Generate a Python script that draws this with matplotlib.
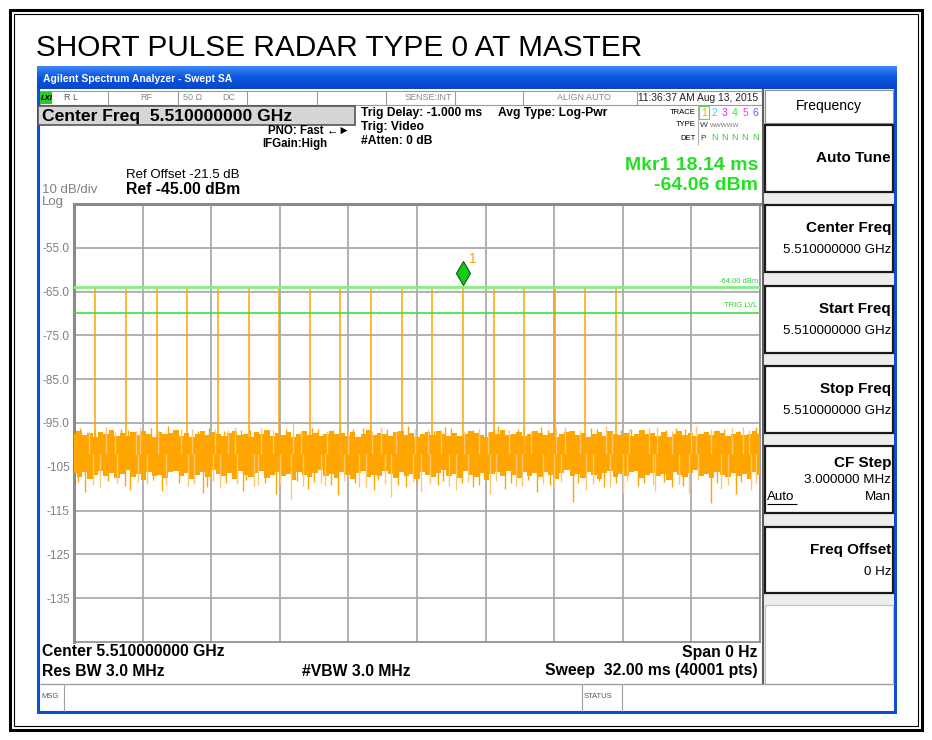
import matplotlib
matplotlib.use("Agg")
import matplotlib.pyplot as plt
import numpy as np
from matplotlib.patches import Rectangle

# --- data ---
sweep_ms = 32.0
ref_level = -45.0
bottom_level = -145.0
ytick_vals = [-55, -65, -75, -85, -95, -105, -115, -125, -135]
ytick_labels = ["-55.0", "-65.0", "-75.0", "-85.0", "-95.0", "-105", "-115", "-125", "-135"]

pulse_t = [1.00, 2.43, 3.86, 5.29, 6.72, 8.14, 9.57, 11.00, 12.43, 13.86,
           15.28, 16.71, 18.14, 19.57, 21.00, 22.43, 23.85, 25.28]
pulse_db = [-64.1, -64.0, -64.2, -64.1, -64.0, -64.3, -64.1, -64.0, -64.4, -64.2,
            -64.1, -64.3, -64.06, -64.2, -64.1, -64.3, -64.2, -64.1]

display_line = -64.0
trig_level = -70.0
marker_t = 18.14
marker_db = -64.06

# noise floor envelope, sampled every 0.25 ms
noise_top = [
    -97.6, -96.9, -97.8, -97.2, -98.1, -97.0, -97.5, -96.6, -97.9, -97.3,
    -98.0, -97.1, -97.7, -96.8, -97.4, -98.2, -97.0, -97.6, -97.2, -96.7,
    -97.9, -97.3, -98.3, -97.5, -96.9, -97.8, -97.1, -97.6, -98.0, -97.2,
    -96.8, -97.7, -97.4, -98.1, -97.0, -97.5, -96.7, -97.9, -97.3, -97.8,
    -97.1, -98.2, -97.4, -96.9, -97.7, -97.2, -98.0, -97.5, -96.8, -97.6,
    -97.3, -97.9, -97.0, -98.1, -97.4, -96.7, -97.8, -97.2, -97.6, -98.0,
    -97.1, -96.9, -97.7, -97.3, -98.2, -97.5, -97.0, -97.8, -96.8, -97.4,
    -97.9, -97.2, -98.0, -97.6, -96.9, -97.3, -97.7, -98.1, -97.0, -97.5,
    -96.7, -97.8, -97.4, -97.1, -98.0, -97.6, -96.9, -97.3, -97.8, -97.2,
    -98.1, -97.5, -97.0, -96.8, -97.7, -97.3, -98.2, -97.6, -97.1, -97.9,
    -96.9, -97.4, -97.8, -97.2, -98.0, -97.5, -96.7, -97.6, -97.3, -97.9,
    -97.1, -98.1, -97.4, -96.8, -97.7, -97.2, -97.9, -97.5, -97.0, -97.8,
    -96.9, -97.3, -98.0, -97.6, -97.1, -97.7, -97.4, -96.8, -97.5]
noise_bot = [
    -106.5, -107.4, -106.2, -107.8, -106.9, -105.9, -107.1, -106.4, -107.6, -106.7,
    -105.8, -107.3, -106.6, -107.9, -106.1, -107.0, -106.8, -107.5, -106.3, -105.9,
    -107.2, -106.5, -107.7, -106.9, -106.2, -107.4, -105.8, -106.7, -107.1, -106.4,
    -107.8, -106.0, -106.9, -107.3, -106.5, -105.9, -107.6, -106.8, -106.3, -107.2,
    -106.6, -107.9, -106.1, -106.8, -107.4, -106.4, -105.8, -107.0, -106.7, -107.5,
    -106.2, -106.9, -107.7, -106.5, -106.0, -107.3, -106.8, -107.1, -105.9, -106.6,
    -107.6, -106.3, -107.0, -106.7, -107.8, -106.1, -106.9, -107.4, -106.5, -105.8,
    -107.2, -106.6, -107.5, -106.0, -106.8, -107.3, -106.4, -107.9, -106.7, -106.2,
    -107.1, -105.9, -106.8, -107.6, -106.3, -107.0, -106.5, -107.4, -106.1, -106.9,
    -107.7, -106.4, -105.8, -107.2, -106.6, -107.5, -106.2, -106.9, -107.8, -106.5,
    -106.0, -107.3, -106.7, -107.1, -106.3, -105.9, -107.6, -106.8, -106.4, -107.0,
    -106.6, -107.9, -106.2, -106.8, -107.4, -106.5, -105.8, -107.2, -106.7, -107.5,
    -106.1, -106.9, -107.3, -106.4, -107.0, -106.6, -107.8, -106.3, -106.8]

# tall noise spikes
spike_up_t = [0.3, 1.5, 2.2, 3.1, 4.4, 5.0, 6.3, 7.5, 8.2, 10.2, 11.1, 12.4, 13.0, 14.3,
              15.6, 16.5, 17.3, 18.9, 19.8, 21.0, 21.8, 22.9, 24.1, 24.8, 26.0, 27.2,
              28.1, 29.0, 30.3, 31.2, 31.8]
spike_up_db = [-96.2, -95.8, -96.4, -96.0, -95.7, -96.3, -96.1, -95.9, -96.5, -95.0, -96.2,
               -95.8, -96.4, -96.0, -95.6, -96.3, -95.9, -96.1, -95.7, -96.4, -96.0, -95.8,
               -96.2, -95.6, -96.3, -95.9, -96.1, -95.7, -96.4, -95.8, -95.9]
spike_dn_t = [0.5, 1.2, 2.6, 3.4, 4.1, 5.3, 6.0, 6.8, 7.9, 8.6, 9.4, 10.1, 10.9, 11.7,
              12.3, 13.3, 14.0, 14.8, 15.5, 16.2, 17.0, 17.8, 18.6, 19.4, 20.1, 20.9,
              21.6, 22.4, 23.3, 23.9, 24.7, 25.6, 26.3, 27.1, 27.9, 28.7, 29.7, 30.2,
              30.9, 31.6]
spike_dn_db = [-110.8, -109.5, -110.2, -109.0, -110.6, -109.4, -111.0, -109.8, -110.5,
               -109.2, -111.2, -112.3, -110.0, -109.3, -111.4, -109.7, -110.3, -111.8,
               -109.5, -110.7, -109.1, -110.4, -109.6, -111.1, -110.0, -109.4, -110.8,
               -109.8, -113.0, -110.2, -109.5, -110.9, -109.3, -110.6, -109.7, -111.0,
               -113.2, -110.1, -111.3, -110.4]

# shorter noise spikes
small_up_t = [0.1, 0.7, 1.0, 1.9, 2.5, 2.9, 3.6, 3.9, 4.7, 5.5, 5.8, 6.6, 7.0, 7.2, 7.8,
              8.7, 9.0, 9.3, 9.9, 10.6, 11.4, 11.8, 12.1, 12.8, 13.5, 13.9, 14.6, 15.0,
              15.3, 15.9, 16.8, 17.1, 17.6, 18.2, 18.6, 19.3, 19.6, 20.3, 20.7, 21.3,
              22.1, 22.5, 23.1, 23.6, 24.4, 25.1, 25.5, 25.9, 26.5, 26.8, 27.6, 27.9,
              28.5, 28.8, 29.4, 29.7, 30.0, 30.7, 31.0, 31.5]
small_up_db = [-96.6, -96.9, -96.3, -97.0, -96.5, -96.8, -96.2, -96.7, -97.0, -96.4,
               -96.8, -96.3, -96.9, -96.5, -96.7, -96.2, -97.0, -96.6, -96.4, -96.8,
               -96.3, -96.9, -96.5, -96.7, -96.1, -96.8, -96.4, -97.0, -96.6, -96.3,
               -96.9, -96.5, -96.2, -96.8, -96.6, -97.0, -96.3, -96.7, -96.4, -96.9,
               -96.5, -96.2, -96.8, -96.6, -96.3, -97.0, -96.7, -96.4, -96.9, -96.2,
               -96.6, -96.8, -96.3, -96.5, -97.0, -96.4, -96.7, -96.2, -96.9, -96.5]
small_dn_t = [0.2, 0.9, 1.6, 2.0, 2.4, 3.0, 3.7, 4.3, 4.9, 5.6, 6.2, 6.5, 7.1, 7.6, 8.0,
              8.4, 8.9, 9.6, 10.4, 10.7, 11.2, 11.5, 12.0, 12.6, 13.1, 13.6, 14.2, 14.5,
              15.1, 15.8, 16.0, 16.6, 17.2, 17.5, 18.1, 18.4, 18.9, 19.7, 20.4, 20.6,
              21.2, 21.9, 22.2, 22.7, 23.5, 24.2, 24.5, 25.0, 25.3, 25.8, 26.6, 27.0,
              27.5, 28.2, 28.4, 29.1, 30.0, 30.5, 31.1, 31.8]
small_dn_db = [-108.4, -109.1, -108.2, -108.8, -109.4, -108.5, -108.0, -109.2, -108.6, -108.9,
               -109.5, -108.3, -108.7, -109.0, -108.1, -109.3, -108.6, -108.9, -108.2, -109.4,
               -108.5, -108.8, -109.1, -108.3, -108.7, -109.5, -108.0, -108.9, -109.2, -108.4,
               -108.6, -109.0, -108.2, -109.3, -108.7, -108.5, -109.1, -108.3, -108.8, -109.4,
               -108.1, -108.9, -109.2, -108.4, -108.6, -109.0, -108.3, -109.5, -108.7, -108.2,
               -108.8, -109.1, -108.5, -108.9, -109.3, -108.0, -108.6, -109.2, -108.4, -108.8]

ORANGE = "#FFA500"
ORANGE_LT = "#FFC870"
W, H = 932, 740

fig = plt.figure(figsize=(W / 100, H / 100), dpi=100)
fig.patch.set_facecolor("white")
plt.rcParams["font.family"] = ["Liberation Sans", "DejaVu Sans"]

# overlay axes in pixel coordinates (origin top-left)
bg = fig.add_axes([0, 0, 1, 1])
bg.set_xlim(0, W)
bg.set_ylim(H, 0)
bg.axis("off")


def rect(x0, y0, x1, y1, fc="none", ec="none", lw=1, z=1):
    bg.add_patch(Rectangle((x0, y0), x1 - x0, y1 - y0, facecolor=fc, edgecolor=ec, lw=lw, zorder=z))


def txt(x, y, s, size=8, weight="normal", color="black", ha="left", va="center", **kw):
    bg.text(x, y, s, fontsize=size, fontweight=weight, color=color, ha=ha, va=va, zorder=5, **kw)


def hline(y, x0, x1, color="#A0A0A0", lw=1):
    bg.plot([x0, x1], [y, y], color=color, lw=lw, zorder=3, solid_capstyle="butt")


def vline(x, y0, y1, color="#A0A0A0", lw=1):
    bg.plot([x, x], [y0, y1], color=color, lw=lw, zorder=3, solid_capstyle="butt")


# document frame and title
rect(10, 10, 922, 730, ec="black", lw=2.2)
rect(14, 14, 918, 726, ec="black", lw=0.8)
txt(36, 48, "SHORT PULSE RADAR TYPE 0 AT MASTER", size=21.4)

# window frame and title bar
rect(37, 66, 897, 714, fc="#0A4FD9")
grad = np.linspace(0, 1, 30).reshape(-1, 1)
bg.imshow(grad, extent=(37, 897, 89, 66), cmap=matplotlib.colors.LinearSegmentedColormap.from_list(
    "xp", ["#3C86F5", "#0A55E0", "#0846C8"]), aspect="auto", zorder=1.5)
bg.set_xlim(0, W)
bg.set_ylim(H, 0)
txt(43, 78.5, "Agilent Spectrum Analyzer - Swept SA", size=7.5, weight="bold", color="white")
rect(40, 89, 894, 711, fc="white", z=1.6)

# status row
rect(40, 91, 762, 105, fc="white", ec="#9A9A9A", lw=0.8, z=2)
for sx in [108, 178, 247, 317, 386, 455, 523, 637]:
    vline(sx, 91, 105, color="#9A9A9A", lw=0.8)
rect(40, 92, 52, 104, fc="#22CC22", z=2.5)
txt(41, 98.5, "LXI", size=5.5, weight="bold", style="italic")
txt(64, 98, "R L", size=6.5, color="#555555")
txt(140, 98, "RF", size=6.5, color="#888888")
txt(183, 98, "50 \u03a9", size=6.5, color="#888888")
txt(222, 98, "DC", size=6.5, color="#888888")
txt(452, 98, "SENSE:INT", size=6.5, color="#888888", ha="right")
txt(584, 98, "ALIGN AUTO", size=6.5, color="#888888", ha="center")
txt(638, 98, "11:36:37 AM Aug 13, 2015", size=7.4, color="#222222")

# header
rect(38, 106, 355, 125, fc="#D6D6D6", ec="#555555", lw=1.2, z=2)
txt(42, 116, "Center Freq  5.510000000 GHz", size=12.6, weight="bold")
txt(268, 131, "PNO: Fast \u2190\u25ba", size=8.3, weight="bold")
txt(262, 144, "IFGain:High", size=8.3, weight="bold")
txt(361, 113, "Trig Delay: -1.000 ms", size=8.7, weight="bold")
txt(361, 127, "Trig: Video", size=8.7, weight="bold")
txt(361, 141, "#Atten: 0 dB", size=8.7, weight="bold")
txt(498, 113, "Avg Type: Log-Pwr", size=8.7, weight="bold")
txt(696, 112, "TRACE", size=5.5, ha="right")
txt(696, 125, "TYPE", size=5.5, ha="right")
txt(696, 138, "DET", size=5.5, ha="right")
vline(698, 105, 145, color="#B0B0B0", lw=0.8)
rect(699, 106, 709, 119, ec="#55DD55", lw=0.8, z=2)
for i, (d, c) in enumerate(zip("123456", ["#FFA500", "#22DDEE", "#EE22EE", "#33DD33", "#FF4499", "#6655FF"])):
    txt(704 + i * 10.3, 112.5, d, size=7.5, color=c, ha="center")
txt(700, 125.5, "W", size=6, color="#333333")
txt(710, 125.5, "WWWWW", size=4.5, color="#777777")
txt(700, 138, "P", size=6, color="#333333")
for i in range(5):
    txt(714 + i * 10.3, 138, "N", size=6.5, color="#33CC33", ha="center")

txt(758, 165, "Mkr1 18.14 ms", size=14, weight="bold", color="#22E022", ha="right")
txt(758, 185, "-64.06 dBm", size=14, weight="bold", color="#22E022", ha="right")
txt(126, 175, "Ref Offset -21.5 dB", size=9.5)
txt(126, 190, "Ref -45.00 dBm", size=11.3, weight="bold")
txt(42, 190, "10 dB/div", size=9.5, color="#808080")
txt(42, 202.5, "Log", size=9.5, color="#808080")

# bottom info
txt(42, 652, "Center 5.510000000 GHz", size=11.3, weight="bold")
txt(758, 652, "Span 0 Hz", size=11.3, weight="bold", ha="right")
txt(42, 671, "Res BW 3.0 MHz", size=11.3, weight="bold")
txt(302, 671, "#VBW 3.0 MHz", size=11.3, weight="bold")
txt(758, 671, "Sweep  32.00 ms (40001 pts)", size=11.3, weight="bold", ha="right")
hline(684, 40, 894, color="#A0A0A0", lw=1)
vline(64, 684, 711, color="#A0A0A0", lw=0.8)
vline(582, 684, 711, color="#A0A0A0", lw=0.8)
vline(622, 684, 711, color="#A0A0A0", lw=0.8)
txt(41, 697, "MSG", size=5.5, color="#555555")
txt(584, 697, "STATUS", size=5.5, color="#555555")

# softkey panel
rect(762, 89, 894, 684, fc="#EDEDED", z=1.7)
vline(763, 89, 684, color="#606060", lw=1.5)
rect(765, 90, 893, 123, fc="white", ec="#909090", lw=0.8, z=2)
txt(829, 106, "Frequency", size=10, ha="center")
keys = [(125, 192, "Auto Tune", None), (205, 272, "Center Freq", "5.510000000 GHz"),
        (286, 353, "Start Freq", "5.510000000 GHz"), (366, 433, "Stop Freq", "5.510000000 GHz"),
        (446, 513, "CF Step", "3.000000 MHz"), (527, 593, "Freq Offset", "0 Hz")]
for y0, y1, lab, val in keys:
    rect(765, y0, 893, y1, fc="white", ec="#1A1A1A", lw=1.6, z=2)
    if val is None:
        txt(891, (y0 + y1) / 2, lab, size=11, weight="bold", ha="right")
    elif lab == "CF Step":
        txt(891, y0 + 17, lab, size=11, weight="bold", ha="right")
        txt(891, y0 + 34, val, size=9.6, ha="right")
        txt(891, y0 + 51, "Man", size=9.6, ha="right")
        txt(767, y0 + 51, "Auto", size=9.6)
        hline(y0 + 58, 767, 797, color="black", lw=0.8)
    else:
        txt(891, y0 + 23, lab, size=11, weight="bold", ha="right")
        txt(891, y0 + 45, val, size=9.6, ha="right")
rect(765, 605, 893, 684, fc="white", ec="#C0C0C0", lw=0.8, z=2)

# --- trace axes ---
ax = fig.add_axes([74 / W, (H - 642) / H, 686 / W, 438 / H])
ax.set_zorder(4)
ax.set_facecolor("white")
ax.set_xlim(0, sweep_ms)
ax.set_ylim(bottom_level, ref_level)
ax.set_xticks(np.linspace(0, sweep_ms, 11))
ax.set_xticklabels([])
ax.set_yticks(ytick_vals)
ax.set_yticklabels(ytick_labels)
ax.tick_params(axis="x", length=0)
ax.tick_params(axis="y", length=0, pad=3, labelsize=8.5, labelcolor="#808080")
ax.grid(True, color="#ABABAB", lw=1.3)
ax.set_axisbelow(True)
for side, sp in ax.spines.items():
    sp.set_color("#8A8A8A")
    sp.set_linewidth(2.2 if side in ("left", "top") else 1.2)

t_edge = np.linspace(0, sweep_ms, len(noise_top))
ax.fill_between(t_edge, noise_bot, noise_top, color=ORANGE, lw=0, zorder=3, step="mid")
mid = -102.0
for ts, vs in [(spike_up_t, spike_up_db), (spike_dn_t, spike_dn_db),
               (small_up_t, small_up_db), (small_dn_t, small_dn_db)]:
    ax.vlines(ts[::2], mid, vs[::2], color=ORANGE, lw=1, zorder=3)
    ax.vlines(ts[1::2], mid, vs[1::2], color=ORANGE_LT, lw=1, zorder=3)
ax.vlines(pulse_t, mid, pulse_db, color=ORANGE, lw=1.1, zorder=3)

ax.axhline(display_line, color="#80F080", lw=2, zorder=4)
ax.axhline(trig_level, color="#44DD44", lw=1.2, zorder=4)
ax.text(31.9, display_line + 0.6, "-64.00 dBm", fontsize=5.5, color="#33CC33", ha="right", va="bottom")
ax.text(31.9, trig_level + 1.0, "TRIG LVL", fontsize=5.5, color="#33CC33", ha="right", va="bottom")

ax.plot([marker_t], [marker_db + 3.2], marker="d", markersize=12.5, color="#11CC11",
        markeredgecolor="#115511", markeredgewidth=0.8, zorder=6)
ax.text(marker_t + 0.3, marker_db + 5.0, "1", fontsize=10, color=ORANGE, ha="left", va="bottom", zorder=6)

fig.savefig("out.png", dpi=100, facecolor="white")
